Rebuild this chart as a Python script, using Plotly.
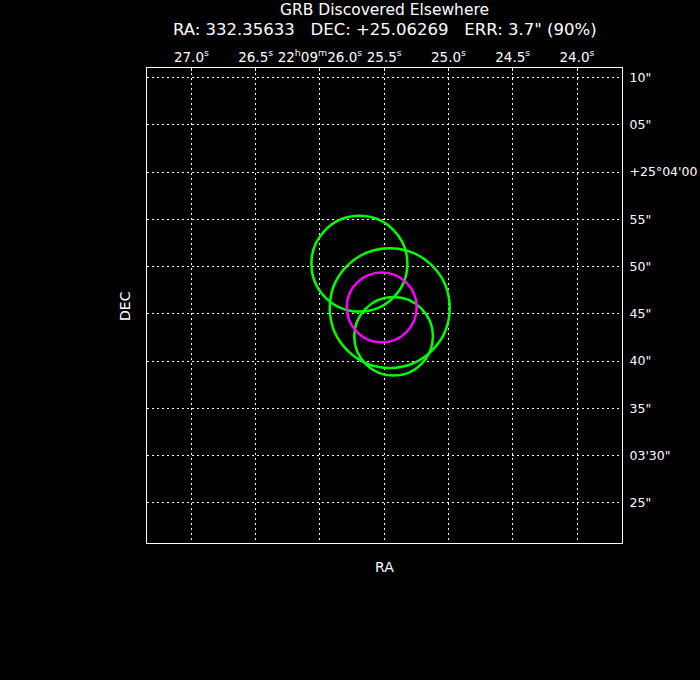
import math
import plotly.graph_objects as go

# ---- data ----
title_line1 = "GRB Discovered Elsewhere"
grb_ra_deg = 332.35633
grb_dec_deg = 25.06269
grb_err_arcsec = 3.7

# other localisations: RA seconds (22h09m + s), Dec arcsec (25d03' + ")
green_ra_s = [25.693, 25.457, 25.427]
green_dec_as = [50.31, 45.61, 42.62]
green_r_as = [5.07, 6.34, 4.16]

ra_tick_vals = [27.0, 26.5, 26.0, 25.5, 25.0, 24.5, 24.0]
ra_tick_text = ["27.0<sup>s</sup>", "26.5<sup>s</sup>",
                "22<sup>h</sup>09<sup>m</sup>26.0<sup>s</sup>", "25.5<sup>s</sup>",
                "25.0<sup>s</sup>", "24.5<sup>s</sup>", "24.0<sup>s</sup>"]
dec_tick_vals = [70, 65, 60, 55, 50, 45, 40, 35, 30, 25]
dec_tick_text = ['10"', '05"', "+25°04'00", '55"', '50"', '45"', '40"', '35"', "03'30\"", '25"']

# ---- conversions ----
ra_h = grb_ra_deg / 15.0
ra_m = (ra_h - int(ra_h)) * 60
grb_ra_s = (ra_m - int(ra_m)) * 60
dec_as = (grb_dec_deg - 25.0) * 3600 - 180.0
cosd = math.cos(math.radians(grb_dec_deg))

fig = go.Figure()
fig.add_trace(go.Scatter(x=[grb_ra_s], y=[dec_as], mode="markers",
                         marker=dict(size=1, color="rgba(0,0,0,0)"),
                         hoverinfo="skip", showlegend=False))

def circ(ra, dec, r, color):
    rx = r / (15.0 * cosd)
    fig.add_shape(type="circle", xref="x", yref="y",
                  x0=ra - rx, x1=ra + rx, y0=dec - r, y1=dec + r,
                  line=dict(color=color, width=2.5), layer="above")

for ra, de, r in zip(green_ra_s, green_dec_as, green_r_as):
    circ(ra, de, r, "#00ff00")
circ(grb_ra_s, dec_as, grb_err_arcsec, "#ff00ff")

font = "DejaVu Sans, Verdana, sans-serif"
W = 700 - 147 - 78
H = 680 - 68 - 137
def px(x):
    return (x - 147) / W
def py(y):
    return (680 - 137 - y) / H

fig.update_layout(
    width=700, height=680,
    paper_bgcolor="black", plot_bgcolor="black",
    margin=dict(l=147, r=78, t=68, b=137, autoexpand=False),
    showlegend=False,
    font=dict(family=font, color="white", size=12),
    xaxis=dict(range=[27.3455, 23.650], side="top", automargin=False,
               tickvals=ra_tick_vals, ticktext=ra_tick_text,
               showgrid=True, gridcolor="white", griddash="2px,3px", gridwidth=1,
               zeroline=False, showline=True, linecolor="white", linewidth=1,
               mirror=True, ticks="inside", ticklen=3, tickcolor="white",
               tickfont=dict(size=13.5, color="white"), fixedrange=True),
    yaxis=dict(range=[20.74, 71.02], side="right", automargin=False,
               tickvals=dec_tick_vals, ticktext=dec_tick_text,
               showgrid=True, gridcolor="white", griddash="2px,3px", gridwidth=1,
               zeroline=False, showline=True, linecolor="white", linewidth=1,
               mirror=True, ticks="", ticklabelstandoff=4,
               tickfont=dict(size=12.5, color="white"), fixedrange=True),
    annotations=[
        dict(text=title_line1, x=px(384.5), y=py(10), xref="paper", yref="paper",
             xanchor="center", yanchor="middle", showarrow=False,
             font=dict(size=15.5, color="white")),
        dict(text=f'RA: {grb_ra_deg:.5f}   DEC: {grb_dec_deg:+.5f}   ERR: {grb_err_arcsec}" (90%)',
             x=px(385), y=py(29), xref="paper", yref="paper",
             xanchor="center", yanchor="middle", showarrow=False,
             font=dict(size=16.5, color="white")),
        dict(text="DEC", x=px(125), y=py(306), xref="paper", yref="paper",
             xanchor="center", yanchor="middle", showarrow=False, textangle=-90,
             font=dict(size=14, color="white")),
        dict(text="RA", x=px(384), y=py(567), xref="paper", yref="paper",
             xanchor="center", yanchor="middle", showarrow=False,
             font=dict(size=14, color="white")),
    ],
)

fig.write_html("out.html", config={"displayModeBar": False},
               post_script="document.body.style.margin='0';document.body.style.background='black';document.documentElement.style.background='black';document.body.style.overflow='hidden';")
